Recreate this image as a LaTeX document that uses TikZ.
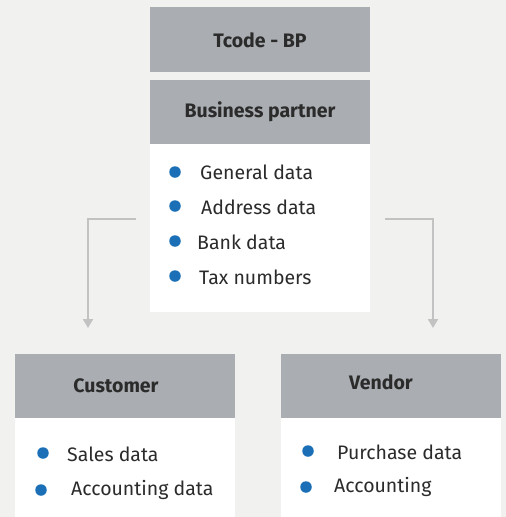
\documentclass[tikz,border=0pt]{standalone}
\usepackage{fontspec}
\setmainfont{Fira Sans}
\usetikzlibrary{arrows.meta}
\definecolor{bgc}{HTML}{F1F1EF}
\definecolor{hdr}{HTML}{AAADB1}
\definecolor{dotc}{HTML}{1A6FB6}
\definecolor{linec}{HTML}{C2C2C2}
\definecolor{txt}{HTML}{2B2B2B}
\tikzset{
  hdrbox/.style={fill=hdr, draw=none},
  panel/.style={fill=white, draw=none},
  htext/.style={font=\fontsize{19.5}{22}\selectfont\bfseries, text=txt, inner sep=0pt},
  btext/.style={font=\fontsize{19.5}{22}\selectfont, text=txt, anchor=west, inner sep=0pt},
  dot/.style={circle, fill=dotc, minimum size=11.5pt, inner sep=0pt},
  conn/.style={draw=linec, line width=2pt, -{Triangle[width=10pt,length=9pt]}},
}
\begin{document}
\begin{tikzpicture}[x=1pt,y=-1pt]
\fill[bgc] (0,0) rectangle (506,517);
\useasboundingbox (0,0) rectangle (506,517);
% top boxes
\fill[hdrbox] (150,7) rectangle (370,72);
\node[htext] (tcode) at (260,40) {Tcode - BP};
\fill[hdrbox] (150,80) rectangle (370,144);
\fill[panel] (150,144) rectangle (370,312);
\node[htext] (bp) at (260,112) {Business partner};
\node[dot] (d1) at (175,172) {};
\node[btext] (t1) at (200,172) {General data};
\node[dot] (d2) at (175,206) {};
\node[btext] (t2) at (201,207) {Address data};
\node[dot] (d3) at (175,241) {};
\node[btext] (t3) at (197,242) {Bank data};
\node[dot] (d4) at (175,276) {};
\node[btext] (t4) at (199,277) {Tax numbers};
% customer
\fill[hdrbox] (15,354) rectangle (235,418);
\fill[panel] (15,418) rectangle (235,517);
\node[htext] (cust) at (116,386) {Customer};
\node[dot] (c1) at (43,453) {};
\node[btext] (ct1) at (67,454) {Sales data};
\node[dot] (c2) at (41,490) {};
\node[btext] (ct2) at (71,490) {Accounting data};
% vendor
\fill[hdrbox] (281,354) rectangle (501,418);
\fill[panel] (281,418) rectangle (501,517);
\node[htext] (vend) at (381,382) {Vendor};
\node[dot] (v1) at (308,451) {};
\node[btext] (vt1) at (337,452) {Purchase data};
\node[dot] (v2) at (306,487) {};
\node[btext] (vt2) at (334,487) {Accounting};
% connectors
\coordinate (ls) at (136,219);
\coordinate (le) at (88,328);
\coordinate (rs) at (385,219);
\coordinate (re) at (433,328);
\draw[conn] (ls) -| (le);
\draw[conn] (rs) -| (re);
\end{tikzpicture}
\end{document}
